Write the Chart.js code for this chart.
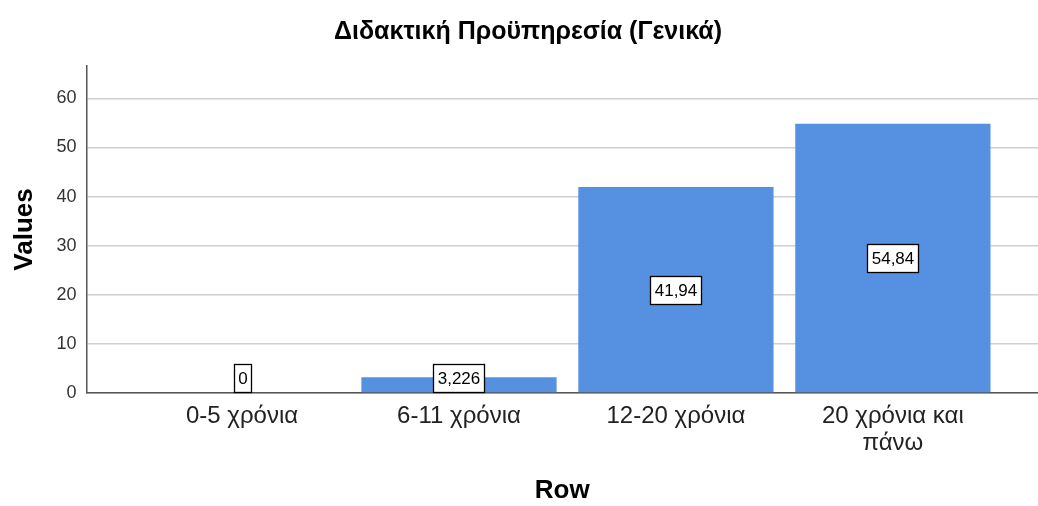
<!DOCTYPE html>
<html>
<head>
<meta charset="utf-8">
<script src="https://cdn.jsdelivr.net/npm/chart.js@4"></script>
<style>
  html, body { margin: 0; padding: 0; background: #ffffff; }
  #wrap { width: 1038px; height: 506px; }
</style>
</head>
<body>
<div id="wrap"><canvas id="chart" width="1038" height="506"></canvas></div>
<script>
// Teaching experience groups and their percentages
const categories = [
  '0-5 χρόνια',
  '6-11 χρόνια',
  '12-20 χρόνια',
  ['20 χρόνια και', 'πάνω']
];
const values = [0, 3.226, 41.94, 54.84];
const valueLabels = ['0', '3,226', '41,94', '54,84'];
const yTicks = [0, 10, 20, 30, 40, 50, 60];

const FONT = "'Liberation Sans', Arial, Helvetica, sans-serif";
const BAR_COLOR = '#5591e0';

// Each bar sits at its category index on a numeric x axis
const points = values.map((v, i) => ({ x: i, y: v }));

// Boxed value labels centred on each bar
const boxedLabels = {
  id: 'boxedLabels',
  afterDatasetsDraw(chart) {
    const ctx = chart.ctx;
    const meta = chart.getDatasetMeta(0);
    const area = chart.chartArea;
    ctx.save();
    ctx.font = '17px ' + FONT;
    ctx.textAlign = 'center';
    ctx.textBaseline = 'middle';
    meta.data.forEach((bar, i) => {
      const { x, y, base } = bar.getProps(['x', 'y', 'base'], true);
      const text = valueLabels[i];
      const w = Math.round(ctx.measureText(text).width + 8);
      const h = 28;
      let cy = (y + base) / 2;
      if (cy + h / 2 > area.bottom - 1) cy = area.bottom - 1 - h / 2;
      const left = Math.round(x - w / 2) + 0.5;
      const top = Math.round(cy - h / 2) + 0.5;
      ctx.fillStyle = '#ffffff';
      ctx.fillRect(left, top, w, h);
      ctx.strokeStyle = '#000000';
      ctx.lineWidth = 1.3;
      ctx.strokeRect(left, top, w, h);
      ctx.fillStyle = '#000000';
      ctx.fillText(text, left + w / 2, top + h / 2 + 1);
    });
    ctx.restore();
  }
};

// The chart title is centred a little to the right of the canvas middle
const titleShift = {
  id: 'titleShift',
  afterLayout(chart) {
    if (chart.titleBlock) chart.titleBlock.left += 18;
  }
};

new Chart(document.getElementById('chart'), {
  type: 'bar',
  data: {
    datasets: [{
      data: points,
      backgroundColor: BAR_COLOR,
      borderWidth: 0,
      barPercentage: 0.9,
      categoryPercentage: 1.0
    }]
  },
  options: {
    responsive: false,
    animation: false,
    devicePixelRatio: 1,
    layout: { padding: { left: 0, right: 0, top: 0, bottom: 0 } },
    plugins: {
      legend: { display: false },
      tooltip: { enabled: false },
      title: {
        display: true,
        text: 'Διδακτική Προϋπηρεσία (Γενικά)',
        color: '#000000',
        font: { family: FONT, size: 25, weight: 'bold' },
        padding: { top: 17, bottom: 19 }
      }
    },
    scales: {
      x: {
        type: 'linear',
        min: -0.717,
        max: 3.669,
        offset: false,
        grid: { display: false, drawTicks: false },
        border: { color: '#555555', width: 1.5 },
        afterBuildTicks(scale) {
          scale.ticks = categories.map((c, i) => ({ value: i }));
        },
        ticks: {
          color: '#222222',
          font: { family: FONT, size: 24, lineHeight: 1.12 },
          maxRotation: 0,
          minRotation: 0,
          autoSkip: false,
          padding: 10,
          callback: (value) => categories[value]
        },
        title: {
          display: true,
          text: 'Row',
          color: '#000000',
          font: { family: FONT, size: 26, weight: 'bold' },
          padding: { top: 0, bottom: 0 }
        },
        afterFit(scale) { scale.height = 113; }
      },
      y: {
        min: 0,
        max: 66.6,
        grid: { color: '#cfcfcf', lineWidth: 1.5, drawTicks: false },
        border: { color: '#555555', width: 1.5 },
        afterBuildTicks(scale) {
          scale.ticks = yTicks.map(v => ({ value: v }));
        },
        ticks: {
          color: '#333333',
          font: { family: FONT, size: 18 },
          padding: 10
        },
        title: {
          display: true,
          text: 'Values',
          color: '#000000',
          font: { family: FONT, size: 26, weight: 'bold' },
          padding: { top: 9, bottom: 0 }
        },
        afterFit(scale) { scale.width = 86.5; }
      }
    }
  },
  plugins: [boxedLabels, titleShift]
});
</script>
</body>
</html>
